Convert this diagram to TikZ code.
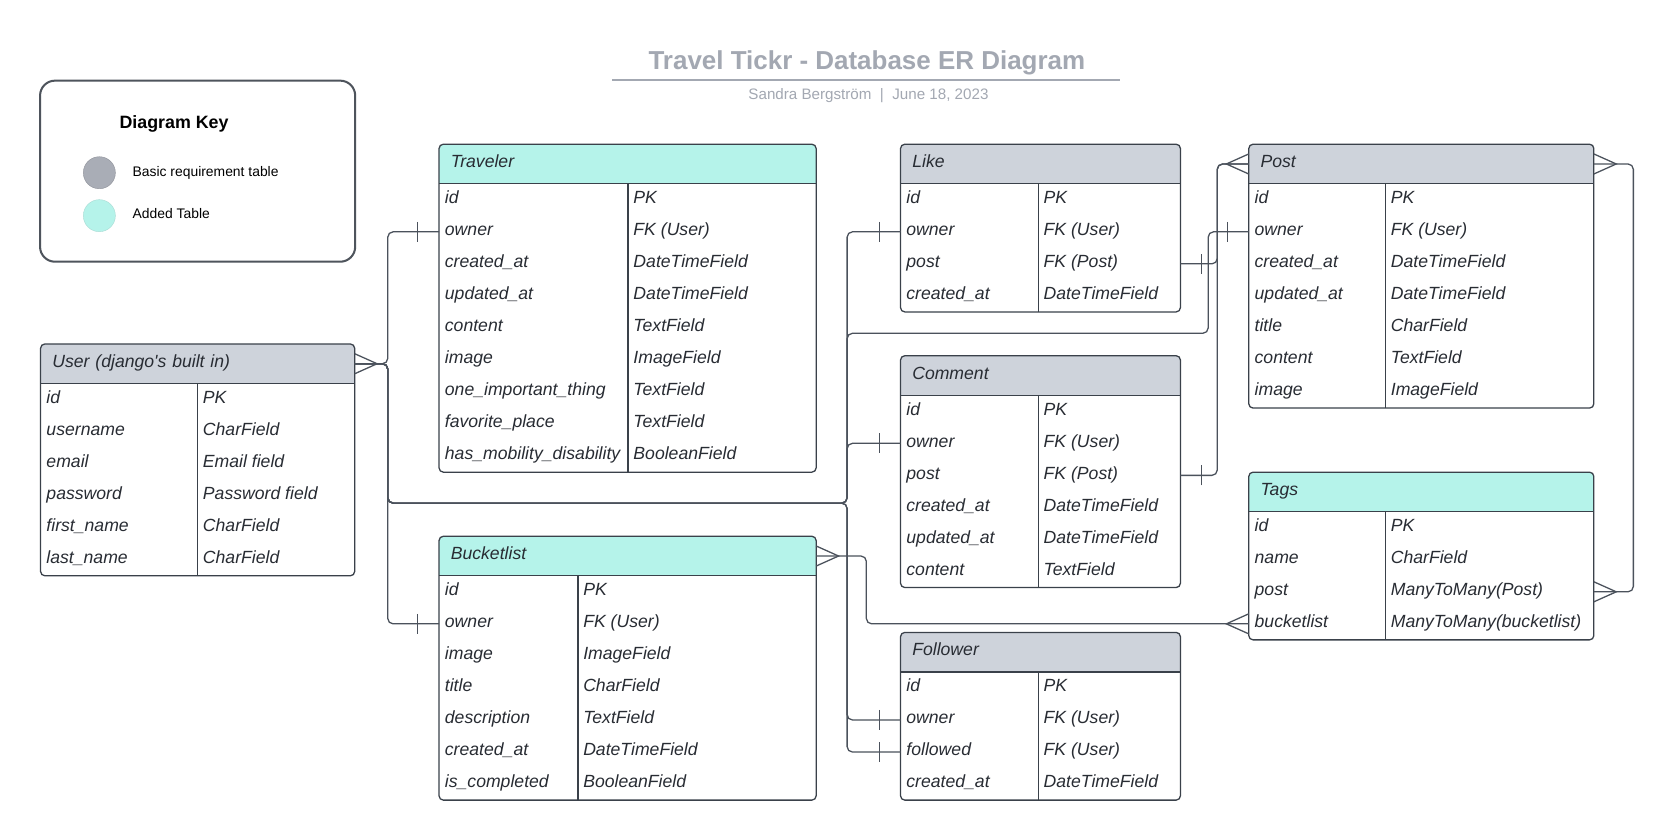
\documentclass[tikz,border=0pt]{standalone}
\usepackage{fontspec}
\setmainfont{Liberation Sans}
\definecolor{headgray}{RGB}{206,211,219}
\definecolor{headteal}{RGB}{181,243,234}
\definecolor{frameline}{RGB}{58,65,74}
\definecolor{linkgray}{RGB}{75,82,92}
\definecolor{titlegray}{RGB}{163,168,178}
\definecolor{keygray}{RGB}{169,173,182}
\definecolor{fieldtext}{RGB}{40,44,51}

% table: name, left, top, width, divider offset, header colour, title, rows, fields
\newcommand{\ertable}[9]{%
  \pgfmathsetmacro\erbot{#3+37+30*#8}
  \pgfmathsetmacro\erfw{#4-11}
  \pgfmathsetmacro\erhw{#4-22}
  \begin{scope}
    \clip[rounded corners=4] (#2,#3) rectangle ({#2+#4},\erbot);
    \fill[#6] (#2,#3) rectangle ({#2+#4},{#3+37});
  \end{scope}
  \draw[tableline] (#2,{#3+37}) -- ({#2+#4},{#3+37});
  \draw[tableline] ({#2+#5},{#3+37}) -- ({#2+#5},\erbot);
  \draw[tableline, rounded corners=4] (#2,#3) rectangle ({#2+#4},\erbot);
  \node[tablehead, minimum width=#4, text width=\erhw pt] (#1) at (#2,#3) {#7};
  \foreach \fname/\fkind [count=\i from 0] in {#9} {
    \node[field, minimum width=#4, text width=\erfw pt] (#1-\i) at (#2,{#3+37+30*\i}) {\fname};
    \node[fieldtype] (#1-\i-t) at ({#2+#5},{#3+52+30*\i}) {\fkind};
  }
}

\begin{document}
\begin{tikzpicture}[x=1pt, y=-1pt,
    tableline/.style = {draw=frameline, line width=1.2pt},
    tablehead/.style = {anchor=north west, minimum height=37, inner xsep=11, outer sep=0,
      text height=11, text depth=4, align=left, font=\fontsize{16.5}{19}\selectfont\itshape,
      text=fieldtext},
    field/.style = {anchor=north west, minimum height=30, inner xsep=5.5, outer sep=0,
      text height=11, text depth=4, align=left, font=\fontsize{16.5}{19}\selectfont\itshape,
      text=fieldtext},
    fieldtype/.style = {anchor=west, inner xsep=5, outer sep=0,
      text height=11, text depth=4, font=\fontsize{16.5}{19}\selectfont\itshape,
      text=fieldtext},
    link/.style = {draw=linkgray, line width=1.2pt, rounded corners=5},
    keydot/.style = {circle, minimum size=30, inner sep=0},
    keytext/.style = {anchor=base west, inner sep=0, font=\fontsize{13}{15}\selectfont},
    crowsfoot/.pic = {\draw[draw=linkgray, line width=1.2pt] (0,-9.4) -- (-21,0) -- (0,9.4);},
    onebar/.pic = {\draw[draw=linkgray, line width=1.2pt] (-20,-9.4) -- (-20,9.4);}]

\useasboundingbox (0,0) rectangle (1568,786);
\fill[white] (0,0) rectangle (1568,786);

% title
\node[anchor=base, inner sep=0, text=titlegray, font=\fontsize{24.3}{28}\selectfont\bfseries] (title) at (811.5,65) {Travel Tickr - Database ER Diagram};
\draw[titlegray, line width=1.5pt] (573,75) -- (1048.5,75);
\node[anchor=base, inner sep=0, text=titlegray, font=\fontsize{14.2}{16}\selectfont] (subtitle) at (813,92.7) {Sandra Bergström~~|~~June 18, 2023};

% key
\draw[draw=frameline!90, line width=1.9pt, rounded corners=14] (37.5,75.5) rectangle (332.5,245);
\node[anchor=base west, inner sep=0, font=\fontsize{16.7}{19}\selectfont\bfseries] (keytitle) at (111.7,120.1) {Diagram Key};
\node[keydot, fill=keygray, draw=keygray!85!black] (keybasic) at (93,161.7) {};
\node[keydot, fill=headteal, draw=headteal!80!gray] (keyadded) at (93,201.9) {};
\node[keytext] (keybasictext) at (124,164.8) {Basic requirement table};
\node[keytext] (keyaddedtext) at (124,205) {Added Table};

% tables
\ertable{traveler}{411}{135}{353}{177}{headteal}{Traveler}{9}{id/PK, owner/FK (User), created\_at/DateTimeField, updated\_at/DateTimeField, content/TextField, image/ImageField, one\_important\_thing/TextField, favorite\_place/TextField, has\_mobility\_disability/BooleanField}
\ertable{user}{38}{322}{294}{147}{headgray}{User (django\textquotesingle s built in)}{6}{id/PK, username/CharField, email/Email field, password/Password field, first\_name/CharField, last\_name/CharField}
\ertable{bucketlist}{411}{502}{353}{130}{headteal}{Bucketlist}{7}{id/PK, owner/FK (User), image/ImageField, title/CharField, description/TextField, created\_at/DateTimeField, is\_completed/BooleanField}
\ertable{like}{843}{135}{262}{129}{headgray}{Like}{4}{id/PK, owner/FK (User), post/FK (Post), created\_at/DateTimeField}
\ertable{comment}{843}{333}{262}{129}{headgray}{Comment}{6}{id/PK, owner/FK (User), post/FK (Post), created\_at/DateTimeField, updated\_at/DateTimeField, content/TextField}
\ertable{follower}{843}{592}{262}{129}{headgray}{Follower}{4}{id/PK, owner/FK (User), followed/FK (User), created\_at/DateTimeField}
\ertable{post}{1169}{135}{323}{128}{headgray}{Post}{7}{id/PK, owner/FK (User), created\_at/DateTimeField, updated\_at/DateTimeField, title/CharField, content/TextField, image/ImageField}
\ertable{tags}{1169}{442}{323}{128}{headteal}{Tags}{4}{id/PK, name/CharField, post/ManyToMany(Post), bucketlist/ManyToMany(bucketlist)}

% connector bends
\coordinate (userbus) at (363,340.5);
\coordinate (likebus) at (793,471);
\coordinate (postbus) at (1131,312);
\coordinate (postin) at (1139.5,153.5);
\coordinate (bucketbus) at (811,520.5);
\coordinate (tagsbus) at (1529,153.5);

% owner links to user
\draw[link] (user.east) -- (userbus) |- (traveler-1.west);
\draw[link] (user.east) -- (userbus) |- (bucketlist-1.west);
\draw[link] (user.east) -- (userbus) |- (likebus) |- (like-1.west);
\draw[link] (user.east) -- (userbus) |- (likebus) |- (comment-1.west);
\draw[link] (user.east) -- (userbus) |- (likebus) |- (follower-1.west);
\draw[link] (user.east) -- (userbus) |- (likebus) |- (follower-2.west);
\draw[link] (user.east) -- (userbus) |- (likebus) |- (postbus) |- (post-1.west);
% post links
\draw[link] (like-2.east) -| (postin) -- (post.west);
\draw[link] (comment-2.east) -| (postin) -- (post.west);
% many to many
\draw[link] (bucketlist.east) -- (bucketbus) |- (tags-3.west);
\draw[link] (post.east) -- (tagsbus) |- (tags-2.east);

% ends
\pic[rotate=180] at (user.east) {crowsfoot};
\pic at (traveler-1.west) {onebar};
\pic at (bucketlist-1.west) {onebar};
\pic at (like-1.west) {onebar};
\pic at (comment-1.west) {onebar};
\pic at (follower-1.west) {onebar};
\pic at (follower-2.west) {onebar};
\pic at (post-1.west) {onebar};
\pic[rotate=180] at (like-2.east) {onebar};
\pic[rotate=180] at (comment-2.east) {onebar};
\pic at (post.west) {crowsfoot};
\pic[rotate=180] at (bucketlist.east) {crowsfoot};
\pic at (tags-3.west) {crowsfoot};
\pic[rotate=180] at (post.east) {crowsfoot};
\pic[rotate=180] at (tags-2.east) {crowsfoot};
\end{tikzpicture}
\end{document}
